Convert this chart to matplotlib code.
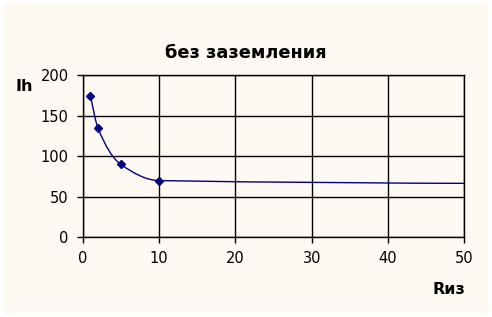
import numpy as np
import matplotlib
matplotlib.use('Agg')
import matplotlib.pyplot as plt
from matplotlib.path import Path
from matplotlib.patches import PathPatch, FancyBboxPatch

# data (last point lies beyond the x range, clipped)
r_iz = [1, 2, 5, 10, 100]
i_h = [175, 135, 90, 70, 65]

x_ticks = [0, 10, 20, 30, 40, 50]
y_ticks = [0, 50, 100, 150, 200]

navy = '#000080'
cream = '#FFF9F4'

plt.rcParams['font.family'] = 'DejaVu Sans'

fig = plt.figure(figsize=(4.92, 3.17), dpi=100)
fig.patch.set_facecolor('white')
# rounded cream panel like the excel chart area
fig.patches.append(FancyBboxPatch((0.006, 0.008), 0.988, 0.984,
                                  boxstyle='round,pad=0,rounding_size=0.012',
                                  transform=fig.transFigure, facecolor=cream,
                                  edgecolor='none', zorder=-5))

ax = fig.add_axes([0.168, 0.2514, 0.776, 0.5111])
ax.set_zorder(2)
ax.set_facecolor('none')

# smooth line: monotone hermite tangents, drawn as bezier segments
x = np.array(r_iz, dtype=float)
y = np.array(i_h, dtype=float)
h = np.diff(x)
d = np.diff(y) / h
m = np.zeros_like(x)
m[0] = d[0]
m[-1] = d[-1]
for k in range(1, len(x) - 1):
    w1 = 2 * h[k] + h[k - 1]
    w2 = h[k] + 2 * h[k - 1]
    m[k] = (w1 + w2) / (w1 / d[k - 1] + w2 / d[k])
verts = [(x[0], y[0])]
codes = [Path.MOVETO]
for k in range(len(x) - 1):
    verts += [(x[k] + h[k] / 3, y[k] + m[k] * h[k] / 3),
              (x[k + 1] - h[k] / 3, y[k + 1] - m[k + 1] * h[k] / 3),
              (x[k + 1], y[k + 1])]
    codes += [Path.CURVE4] * 3
curve = PathPatch(Path(verts, codes), facecolor='none', edgecolor=navy,
                  lw=1.0, zorder=3)
ax.add_patch(curve)
ax.plot(r_iz, i_h, linestyle='none', marker='D', markersize=4.5,
        color=navy, zorder=4)

ax.set_xlim(0, 50)
ax.set_ylim(0, 200)
ax.set_xticks(x_ticks)
ax.set_yticks(y_ticks)
ax.grid(True, color='black', lw=1.0)
ax.set_axisbelow(True)
for s in ax.spines:
    ax.spines[s].set_color('black')
    ax.spines[s].set_linewidth(1.0)
ax.tick_params(direction='out', length=4, width=1, colors='black',
               labelsize=10.5, pad=6)

fig.text(0.5, 0.832, 'без заземления', ha='center', va='center',
         fontsize=12.8, fontweight='heavy')
fig.text(0.049, 0.726, 'Ih', ha='center', va='center',
         fontsize=11.5, fontweight='heavy')
fig.text(0.913, 0.088, 'Rиз', ha='center', va='center',
         fontsize=11.5, fontweight='heavy')

fig.savefig('out.png', dpi=100, facecolor='white')
